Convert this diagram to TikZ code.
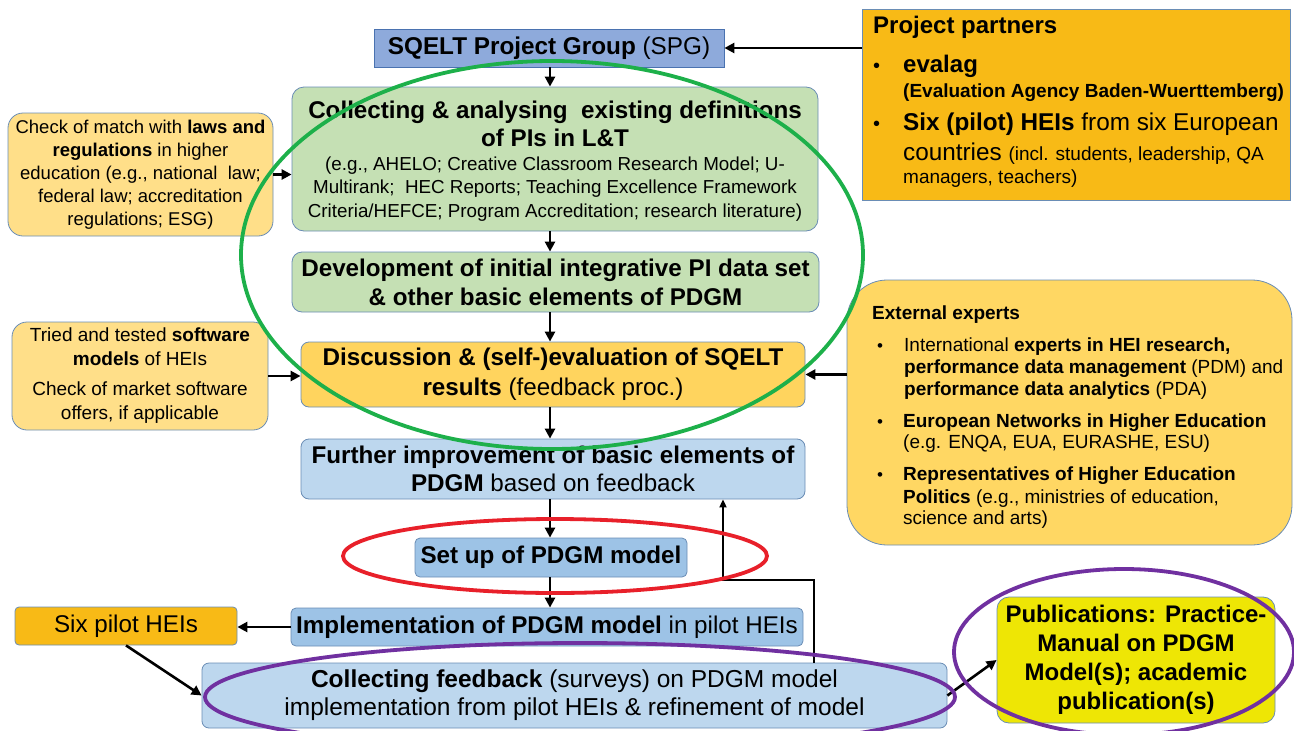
\documentclass[tikz,border=0pt]{standalone}
\usepackage{fontspec}
\setmainfont{Liberation Sans}
\usetikzlibrary{arrows.meta,calc}
\newcommand\fsz[2]{\fontsize{#1}{#2}\selectfont}
\definecolor{bordc}{HTML}{6A8DB5}
\definecolor{spgc}{HTML}{8EAADB}
\definecolor{spgb}{HTML}{4A72B0}
\definecolor{greenc}{HTML}{C5E0B4}
\definecolor{discc}{HTML}{FFD45E}
\definecolor{bluel}{HTML}{BDD7EE}
\definecolor{bluem}{HTML}{9DC3E6}
\definecolor{orc}{HTML}{F8BA16}
\definecolor{pubc}{HTML}{EEE605}
\definecolor{lawc}{HTML}{FFDF89}
\definecolor{eec}{HTML}{FFD763}
\definecolor{ellg}{HTML}{1DB04A}
\definecolor{ellr}{HTML}{E8202A}
\definecolor{ellp}{HTML}{7030A0}
\begin{document}
\begin{tikzpicture}[x=1pt,y=-1pt,
  box/.style={draw=bordc, line width=0.8pt, inner sep=0pt, align=center, text=black},
  line/.style={anchor=base west, inner sep=0pt, text=black},
  arr/.style={line width=2.6pt, -{Triangle[length=10pt,width=10pt]}},
  thinarr/.style={line width=1.8pt, -{Triangle[length=8pt,width=7pt]}},
  ell/.style={line width=3.8pt}]
\useasboundingbox (0,0) rectangle (1294,731);

% main column
\node[box, fill=spgc, draw=spgb, minimum width=350pt, minimum height=38pt, font=\fsz{24.3}{28}] (spg) at (549,48) {\textbf{SQELT Project Group} (SPG)};

\node[box, fill=greenc, rounded corners=12pt, minimum width=526pt, minimum height=144pt] (collect) at (555,159) {};
\node[font=\fsz{24.2}{28}\bfseries, align=center, inner sep=0pt] (collectT) at (555,124) {Collecting \& analysing\ \ existing definitions\\ of PIs in L\&T};
\node[font=\fsz{18.8}{23.5}, align=center, inner sep=0pt] (collectS) at (555,189) {(e.g., AHELO; Creative Classroom Research Model; U-\\ Multirank;\ \ HEC Reports; Teaching Excellence Framework\\ Criteria/HEFCE; Program Accreditation; research literature)};

\node[box, fill=greenc, rounded corners=10pt, minimum width=527pt, minimum height=60pt, font=\fsz{24.2}{29}\bfseries] (dev) at (555.5,282) {Development of initial integrative PI data set\\ \& other basic elements of PDGM};

\node[box, fill=discc, rounded corners=8pt, minimum width=504pt, minimum height=65pt, font=\fsz{24.2}{30}\bfseries] (disc) at (553,374.5) {Discussion \& (self-)evaluation of SQELT\\ results {\mdseries (feedback proc.)}};

\node[box, fill=bluel, rounded corners=8pt, minimum width=504pt, minimum height=60pt, font=\fsz{24.2}{28}] (further) at (553,469) {\textbf{Further improvement of basic elements of}\\ \textbf{PDGM} based on feedback};

\node[box, fill=bluem, rounded corners=5pt, minimum width=272pt, minimum height=39pt, font=\fsz{24.2}{28}\bfseries] (setup) at (551,557.5) {Set up of PDGM model};

\node[box, fill=bluem, rounded corners=5pt, minimum width=512pt, minimum height=38pt, font=\fsz{24.2}{28}] (impl) at (547,627) {\textbf{Implementation of PDGM model} in pilot HEIs};

\node[box, fill=orc, rounded corners=4pt, minimum width=222pt, minimum height=38pt, font=\fsz{24.2}{28}] (six) at (126,626) {Six pilot HEIs};

\node[box, fill=bluel, rounded corners=7pt, minimum width=745pt, minimum height=65pt, font=\fsz{24.5}{28}] (coll) at (574.5,695.5) {\textbf{Collecting feedback} (surveys) on PDGM model\\ implementation from pilot HEIs \& refinement of model};

\node[box, fill=pubc, rounded corners=12pt, minimum width=278pt, minimum height=126pt, font=\fsz{24}{29}\bfseries] (pub) at (1136,660) {Publications: Practice-\\ Manual on PDGM\\ Model(s); academic\\ publication(s)};

% left boxes
\node[box, fill=lawc, rounded corners=15pt, minimum width=265pt, minimum height=123pt, font=\fsz{18.5}{23}] (law) at (140.5,174.5) {Check of match with \textbf{laws and}\\ \textbf{regulations} in higher\\ education (e.g., national\ \ law;\\ federal law; accreditation\\ regulations; ESG)};

\node[box, fill=lawc, rounded corners=15pt, minimum width=256pt, minimum height=108pt, font=\fsz{19}{24}] (soft) at (140,376) {Tried and tested \textbf{software}\\ \textbf{models} of HEIs\\[6pt] Check of market software\\ offers, if applicable};

% project partners
\node[box, fill=orc, minimum width=428pt, minimum height=191pt] (pp) at (1076,104.5) {};
\node[line, font=\fsz{24}{28}\bfseries] (ppT) at (873,33) {Project partners};
\node[line, font=\fsz{20}{24}] (ppB1) at (873,72) {\textbullet};
\node[line, font=\fsz{24}{28}\bfseries] (pp1) at (903,72) {evalag};
\node[line, font=\fsz{19}{22}\bfseries] (pp2) at (903,97) {(Evaluation Agency Baden-Wuerttemberg)};
\node[line, font=\fsz{20}{24}] (ppB2) at (873,130) {\textbullet};
\node[line, font=\fsz{24.3}{28}] (pp3) at (903,130) {\textbf{Six (pilot) HEIs} from six European};
\node[line, font=\fsz{24.3}{28}] (pp4) at (903,160) {countries {\fsz{19}{22}(incl. students, leadership, QA}};
\node[line, font=\fsz{19}{22}] (pp5) at (903,183) {managers, teachers)};

% external experts
\node[box, fill=eec, rounded corners=40pt, minimum width=445pt, minimum height=265pt] (ee) at (1069.5,412.5) {};
\node[line, font=\fsz{19}{22}\bfseries] (eeT) at (872,319) {External experts};
\node[line, font=\fsz{17}{20}] (eeB1) at (877,351) {\textbullet};
\node[line, font=\fsz{19}{22}] (ee1) at (904,351) {International \textbf{experts in HEI research,}};
\node[line, font=\fsz{19}{22}] (ee2) at (904,373) {\textbf{performance data management} (PDM) and};
\node[line, font=\fsz{19}{22}] (ee3) at (904,395) {\textbf{performance data analytics} (PDA)};
\node[line, font=\fsz{17}{20}] (eeB2) at (877,427) {\textbullet};
\node[line, font=\fsz{19}{22}] (ee4) at (903,427) {\textbf{European Networks in Higher Education}};
\node[line, font=\fsz{19}{22}] (ee5) at (903,448) {(e.g. ENQA, EUA, EURASHE, ESU)};
\node[line, font=\fsz{17}{20}] (eeB3) at (877,480) {\textbullet};
\node[line, font=\fsz{19}{22}] (ee6) at (903,480) {\textbf{Representatives of Higher Education}};
\node[line, font=\fsz{19}{22}] (ee7) at (903,503) {\textbf{Politics} (e.g., ministries of education,};
\node[line, font=\fsz{19}{22}] (ee8) at (903,524) {science and arts)};

% connectors
\coordinate (ax) at (550,0);
\draw[arr] (ax |- spg.south) -- (ax |- collect.north);
\draw[arr] (ax |- collect.south) -- (ax |- dev.north);
\draw[arr] (ax |- dev.south) -- (ax |- disc.north);
\draw[arr] (ax |- disc.south) -- (ax |- further.north);
\draw[arr] (ax |- further.south) -- (ax |- setup.north);
\draw[arr] (ax |- setup.south) -- (ax |- impl.north);
\draw[arr] (law.east) -- (collect.west |- law.east);
\draw[arr] (soft.east) -- (disc.west |- soft.east);
\draw[arr] (pp.west |- spg.east) -- (spg.east);
\draw[arr] (ee.west |- disc.east) -- (disc.east);
\draw[arr] (impl.west) -- (six.east |- impl.west);
\draw[arr] (six.south) -- (coll.west);
\draw[arr] (coll.east) -- (pub.west);
\coordinate (fbr) at (814,580);
\coordinate (fbl) at (723,580);
\draw[thinarr] (fbr |- coll.north) -- (fbr) -- (fbl) -- (fbl |- further.south);

% highlight ellipses
\draw[ell, ellg] (552,255) ellipse [x radius=311pt, y radius=194pt];
\draw[ell, ellr] (555,556) ellipse [x radius=212pt, y radius=37pt];
\draw[ell, ellp] (580,697) ellipse [x radius=375pt, y radius=54pt];
\draw[ell, ellp] (1124,652) ellipse [x radius=170pt, y radius=83pt];
\end{tikzpicture}
\end{document}
